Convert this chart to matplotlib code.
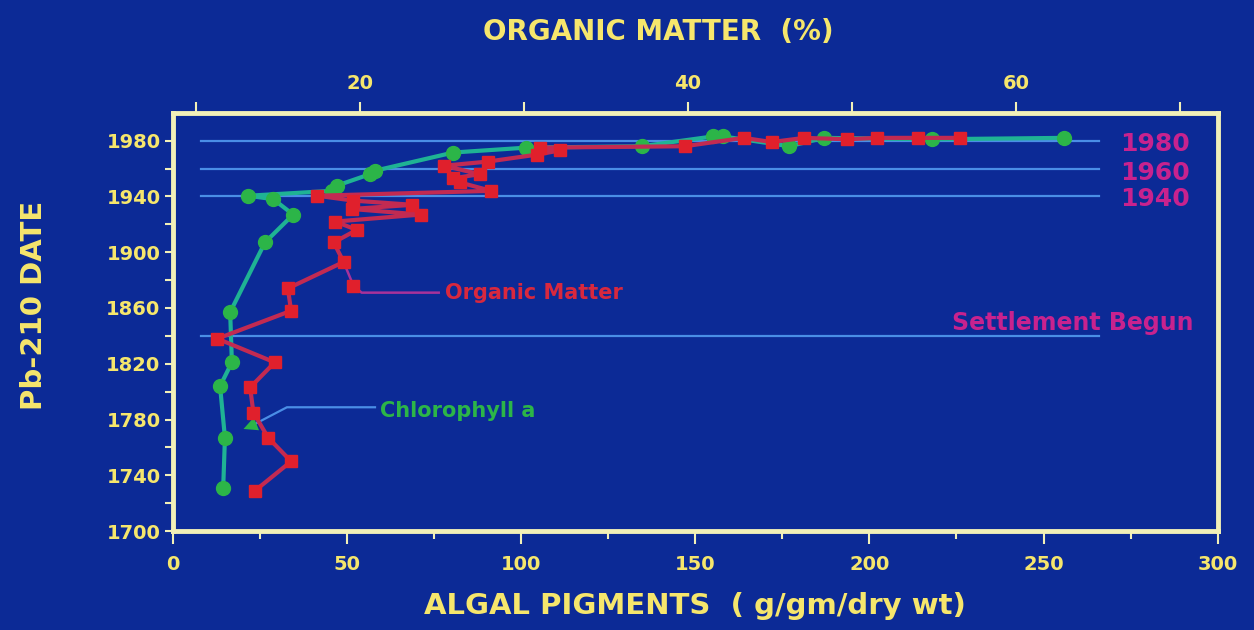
import matplotlib.pyplot as plt

# chlorophyll a (bottom axis, algal pigments)
chl_years = [1731, 1767, 1804, 1821, 1857, 1907, 1927, 1938, 1940.5, 1944, 1947.7,
             1956, 1958.4, 1971.5, 1975, 1976, 1983, 1983, 1976, 1982, 1981, 1982]
chl_vals = [14.4, 14.9, 13.5, 16.9, 16.4, 26.4, 34.5, 28.8, 21.6, 45.6, 47.0,
            56.6, 57.9, 80.5, 101.5, 134.6, 155, 158, 177, 187, 218, 256]

# organic matter (top axis, %)
om_years = [1729, 1750, 1767, 1785, 1803, 1821, 1838, 1858, 1874, 1893, 1907, 1916,
            1922, 1927, 1931, 1934, 1937, 1940.5, 1944, 1950, 1953, 1956, 1962, 1965,
            1970, 1973, 1975, 1976, 1982, 1979, 1982, 1981, 1982, 1982, 1982]
om_vals = [13.6, 15.8, 14.4, 13.5, 13.3, 14.8, 11.3, 15.8, 15.6, 19.0, 18.4, 19.8,
           18.5, 23.7, 19.5, 23.2, 19.6, 17.4, 28.0, 26.1, 25.7, 27.3, 25.1, 27.8,
           30.8, 32.2, 31.0, 39.8, 43.4, 45.1, 47.1, 49.7, 51.5, 54.0, 56.6]

ref_years = [1980, 1960, 1940]
settle_year = 1840

bg = "#0c2a96"
frame = "#f2f0b8"
yellow = "#f6e66c"
magenta = "#c8228e"
line_blue = "#4a8ee6"
green_line = "#1fb394"
green_mark = "#2cb548"
red_line = "#c22a52"
red_mark = "#e0202c"

plt.rcParams["font.family"] = ["DejaVu Sans"]
plt.rcParams["font.weight"] = "bold"

fig = plt.figure(figsize=(12.54, 6.3), dpi=100, facecolor=bg)
ax = fig.add_axes([0.138, 0.157, 0.833, 0.664])
ax.set_facecolor(bg)

ax.set_xlim(0, 300)
ax.set_ylim(1700, 2000)

# reference lines
for yr in ref_years + [settle_year]:
    ax.plot([8, 266], [yr, yr], color=line_blue, lw=1.6, zorder=1)

ax.plot(chl_vals, chl_years, color=green_line, lw=3, marker="o", ms=10,
        mfc=green_mark, mec=green_mark, zorder=3)

# label and leader for chlorophyll
ax.plot([58, 32.7, 22.5], [1788.8, 1788.8, 1775.5], color=line_blue, lw=1.6, zorder=2)
ax.annotate("", xy=(19.5, 1772.5), xytext=(25, 1778),
            arrowprops=dict(arrowstyle="-|>", color=green_mark, mutation_scale=25, lw=0))
ax.text(59.5, 1786, "Chlorophyll a", color=green_mark, fontsize=15, fontweight="bold",
        va="center", ha="left")

# magenta labels
ax.text(272, 1977.5, "1980", color=magenta, fontsize=18, fontweight="bold", va="center")
ax.text(272, 1957, "1960", color=magenta, fontsize=18, fontweight="bold", va="center")
ax.text(272, 1938.5, "1940", color=magenta, fontsize=18, fontweight="bold", va="center")
ax.text(293, 1849.5, "Settlement Begun", color=magenta, fontsize=17, fontweight="bold",
        va="center", ha="right")

for s in ax.spines.values():
    s.set_color(frame)
    s.set_linewidth(3.5)

ax.set_xticks(range(0, 301, 50))
ax.set_xticks(range(25, 300, 50), minor=True)
ax.set_yticks(range(1700, 1981, 40))
ax.set_yticks(range(1720, 1981, 40), minor=True)
ax.tick_params(axis="both", which="both", colors=frame, direction="out", width=1.5)
ax.tick_params(axis="x", which="major", length=9, labelsize=14, labelcolor=yellow, pad=8)
ax.tick_params(axis="y", which="major", length=6, labelsize=14, labelcolor=yellow, pad=3)
ax.tick_params(axis="both", which="minor", length=6)
for lab in ax.get_xticklabels() + ax.get_yticklabels():
    lab.set_fontweight("bold")

ax.set_xlabel("ALGAL PIGMENTS  ( g/gm/dry wt)", color=yellow, fontsize=21,
              fontweight="bold", labelpad=13)
ax.set_ylabel("Pb-210 DATE", color=yellow, fontsize=21, fontweight="bold")
ax.yaxis.set_label_coords(-0.12, 0.54)

# organic matter on the top axis
ax2 = ax.twiny()
ax2.set_xlim(8.6, 72.3)
ax2.plot(om_vals, om_years, color=red_line, lw=3, marker="s", ms=9,
         mfc=red_mark, mec=red_mark, zorder=4)
ax2.plot([19.0, 19.6, 20.1, 24.8], [1893, 1876, 1871, 1871], color="#a8329a", lw=1.8)
ax2.plot([19.6], [1876], marker="s", ms=8, color=red_mark)
ax2.text(25.2, 1870.5, "Organic Matter", color="#d8283e", fontsize=15,
         fontweight="bold", va="center", ha="left")

ax2.set_xticks(range(10, 71, 10))
ax2.set_xticklabels(["", "20", "", "40", "", "60", ""])
ax2.tick_params(axis="x", colors=frame, direction="out", width=1.5, length=8,
                labelsize=14, labelcolor=yellow, pad=6)
for lab in ax2.get_xticklabels():
    lab.set_fontweight("bold")
for s in ax2.spines.values():
    s.set_visible(False)
ax2.set_xlabel("ORGANIC MATTER  (%)", color=yellow, fontsize=20, fontweight="bold")
ax2.xaxis.label.set_va("bottom")
ax2.xaxis.set_label_coords(0.465, 1.16)

fig.savefig("out.png", dpi=100, facecolor=bg)
